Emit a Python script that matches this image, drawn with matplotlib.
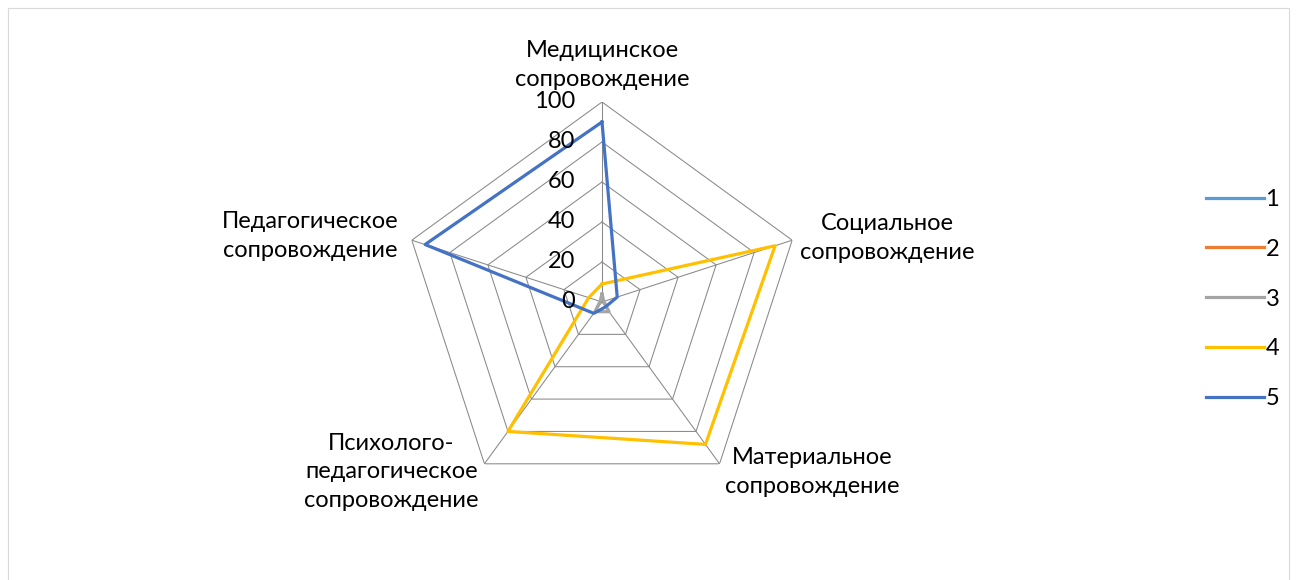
import numpy as np
import matplotlib
matplotlib.use("Agg")
from matplotlib import pyplot as plt
from matplotlib.patches import Rectangle

categories = ["Медицинское\nсопровождение", "Социальное\nсопровождение",
              "Материальное\nсопровождение", "Психолого-\nпедагогическое\nсопровождение",
              "Педагогическое\nсопровождение"]
series_names = ["1", "2", "3", "4", "5"]
s1 = [0, 0, 0, 0, 0]
s2 = [0, 0, 0, 0, 0]
s3 = [4, 1, 6, 6, 1]
s4 = [9, 91, 88, 80, 7]
s5 = [90, 8, 3, 7, 93]
r_ticks = [0, 20, 40, 60, 80, 100]
colors = ["#5B9BD5", "#ED7D31", "#A5A5A5", "#FFC000", "#4472C4"]

plt.rcParams["font.family"] = ["Lato", "DejaVu Sans"]
W, H = 1297, 580
FS = 17
fig = plt.figure(figsize=(W / 100, H / 100), dpi=100)

# chart area border
fig.patches.append(Rectangle((8 / W, -0.1), (1289 - 8) / W, 1.1 - 8 / H,
                             transform=fig.transFigure, fill=False,
                             edgecolor="#D9D9D9", lw=0.8))

ax = fig.add_axes([(602 - 200) / W, (H - 302 - 200) / H, 400 / W, 400 / H],
                  projection="polar")
ax.set_theta_zero_location("N")
ax.set_theta_direction(-1)
ax.set_ylim(0, 100)
ax.grid(False)
ax.set_xticks([])
ax.set_yticks([])
ax.spines["polar"].set_visible(False)
ax.patch.set_alpha(0)

n = len(categories)
angles = np.linspace(0, 2 * np.pi, n, endpoint=False)
closed = np.append(angles, angles[0])

# pentagon grid and spokes
for lv in r_ticks[1:]:
    ax.plot(closed, [lv] * (n + 1), color="#898989", lw=0.75, zorder=1)
for a in angles:
    ax.plot([a, a], [0, 100], color="#898989", lw=0.75, zorder=1)

# series
for name, vals, c in zip(series_names, [s1, s2, s3, s4, s5], colors):
    v = list(vals) + [vals[0]]
    ax.plot(closed, v, color=c, lw=2.3, label=name, zorder=3,
            solid_joinstyle="round")

# radial tick labels
for t in r_ticks:
    ax.annotate(str(t), xy=(0, t), xytext=(-27, 0), textcoords="offset pixels",
                ha="right", va="center", fontsize=FS, zorder=4)

# category labels
lab_pos = [(106, "center", "bottom"), (104, "left", "center"),
           (105, "left", "center"), (105, "right", "center"),
           (107, "right", "center")]
for a, lab, (rr, ha, va) in zip(angles, categories, lab_pos):
    ax.text(a, rr, lab, ha=ha, va=va, multialignment="center",
            fontsize=FS, linespacing=1.45, clip_on=False)

fig.legend(loc="center left", bbox_to_anchor=(1197 / W, (H - 299) / H),
           frameon=False, fontsize=FS, handlelength=2.45, handletextpad=0.05,
           labelspacing=1.22, borderaxespad=0)

fig.savefig("out.png", dpi=100)
